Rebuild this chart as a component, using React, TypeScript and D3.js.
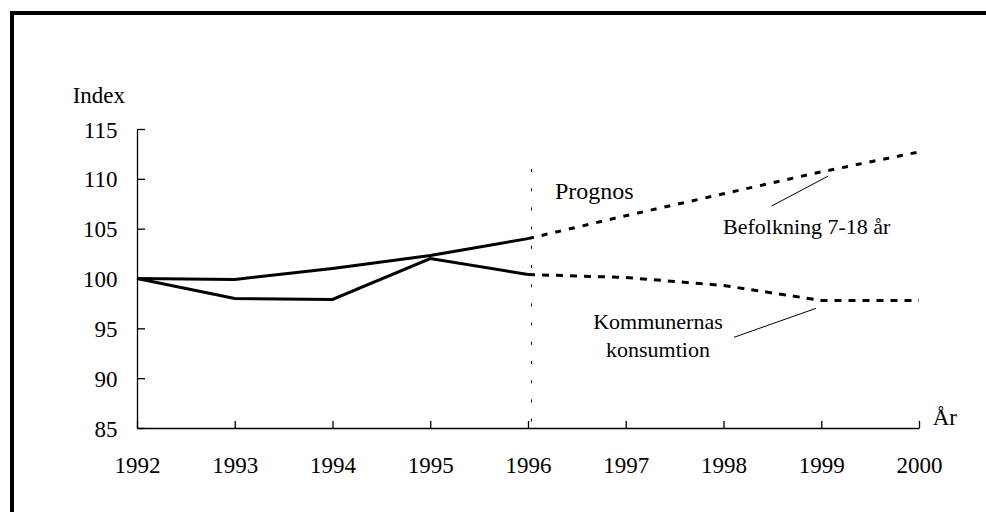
import React, { useEffect, useRef } from 'react';
import * as d3 from 'd3';

// values
const histYears = [1992, 1993, 1994, 1995, 1996];
const progYears = [1996, 1997, 1998, 1999, 2000];
const befolkningHist = [100, 99.9, 101.0, 102.3, 104.0];
const befolkningProg = [104.0, 106.3, 108.5, 110.7, 112.7];
const kommunHist = [100, 98.0, 97.9, 102.0, 100.4];
const kommunProg = [100.4, 100.1, 99.3, 97.8, 97.8];
const xTicks = [1992, 1993, 1994, 1995, 1996, 1997, 1998, 1999, 2000];
const yTicks = [85, 90, 95, 100, 105, 110, 115];

export default function App() {
  const ref = useRef<SVGSVGElement | null>(null);

  useEffect(() => {
    const width = 986;
    const height = 512;
    const font = '"Liberation Serif", "Times New Roman", serif';

    const svg = d3.select(ref.current);
    svg.selectAll('*').remove();

    svg.append('rect')
      .attr('width', width)
      .attr('height', height)
      .attr('fill', 'white');

    // frame (only top and left edges visible)
    svg.append('rect')
      .attr('x', 12)
      .attr('y', 13)
      .attr('width', 1000)
      .attr('height', 540)
      .attr('fill', 'none')
      .attr('stroke', 'black')
      .attr('stroke-width', 4);

    const x = d3.scaleLinear().domain([1992, 2000]).range([137, 919]);
    const y = d3.scaleLinear().domain([85, 115]).range([428, 129]);

    const xAxis = svg.append('g')
      .attr('transform', `translate(0, ${y(85)})`)
      .call(d3.axisBottom(x).tickValues(xTicks).tickFormat(d3.format('d')).tickSize(-7).tickSizeOuter(0));
    xAxis.selectAll('text')
      .attr('y', 45)
      .attr('dy', 0)
      .attr('font-size', 23)
      .attr('font-family', font)
      .attr('fill', 'black');

    const yAxis = svg.append('g')
      .attr('transform', `translate(${x(1992)}, 0)`)
      .call(d3.axisLeft(y).tickValues(yTicks).tickSize(-8).tickSizeOuter(0).tickPadding(19.5));
    yAxis.selectAll('text')
      .attr('dy', '0.35em')
      .attr('font-size', 23)
      .attr('font-family', font)
      .attr('fill', 'black');

    [xAxis, yAxis].forEach(g => {
      g.selectAll('path, line').attr('stroke', 'black').attr('stroke-width', 1.3);
    });

    // forecast divider
    svg.append('line')
      .attr('x1', x(1996) + 3.5)
      .attr('x2', x(1996) + 3.5)
      .attr('y1', 169)
      .attr('y2', y(85))
      .attr('stroke', 'black')
      .attr('stroke-width', 1)
      .attr('stroke-dasharray', '3,16.2');

    const line = d3.line<[number, number]>()
      .x(d => x(d[0]))
      .y(d => y(d[1]));

    const series = [
      { years: histYears, values: befolkningHist, dash: null },
      { years: histYears, values: kommunHist, dash: null },
      { years: progYears, values: befolkningProg, dash: '6,8' },
      { years: progYears, values: kommunProg, dash: '7,7' },
    ];
    series.forEach(s => {
      svg.append('path')
        .datum(s.years.map((yr, i) => [yr, s.values[i]] as [number, number]))
        .attr('d', line)
        .attr('fill', 'none')
        .attr('stroke', 'black')
        .attr('stroke-width', 3)
        .attr('stroke-dasharray', s.dash);
    });

    const text = (tx: number, ty: number, str: string, size: number, anchor = 'start') =>
      svg.append('text')
        .attr('x', tx)
        .attr('y', ty)
        .attr('font-family', font)
        .attr('font-size', size)
        .attr('text-anchor', anchor)
        .attr('fill', 'black')
        .text(str);

    text(72.7, 102.7, 'Index', 23);
    text(932.7, 425, 'År', 23);
    text(555, 199.3, 'Prognos', 24);
    text(723, 233.5, 'Befolkning 7-18 år', 22);
    text(658, 329, 'Kommunernas', 22, 'middle');
    text(658, 356.5, 'konsumtion', 22, 'middle');

    // leader lines
    svg.append('line')
      .attr('x1', 771.7).attr('y1', 206)
      .attr('x2', 828.3).attr('y2', 176)
      .attr('stroke', 'black').attr('stroke-width', 1);
    svg.append('line')
      .attr('x1', 734).attr('y1', 337.3)
      .attr('x2', 816).attr('y2', 308.3)
      .attr('stroke', 'black').attr('stroke-width', 1);
  }, []);

  return (
    <svg
      ref={ref}
      width={986}
      height={512}
      style={{ position: 'absolute', left: 0, top: 0, display: 'block' }}
    />
  );
}
